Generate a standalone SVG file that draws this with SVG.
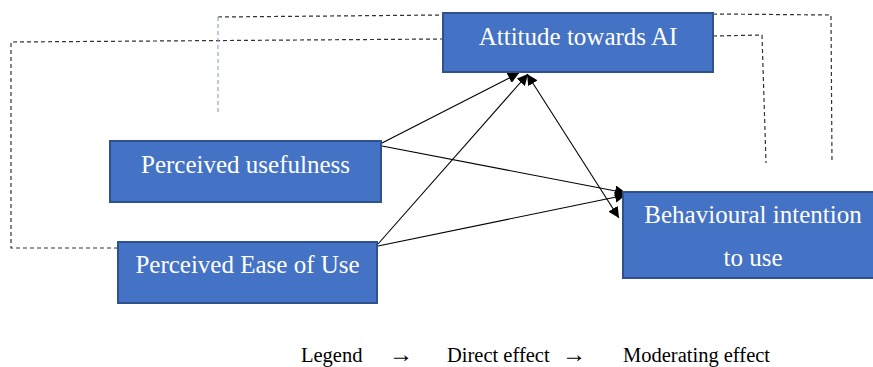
<svg xmlns="http://www.w3.org/2000/svg" width="873" height="367" viewBox="0 0 873 367">
<style>
.box{fill:#4472C4;stroke:#2F528F;stroke-width:2}
.lbl{font-family:"Liberation Serif","Times New Roman",serif;font-size:25px;fill:#fff;text-anchor:middle}
.leg{font-family:"Liberation Serif","Times New Roman",serif;font-size:20.5px;fill:#000}
.la{font-size:24px}
.arr{stroke:#000;stroke-width:1.1;fill:none;marker-end:url(#ah)}
.dash{stroke:#333;stroke-width:1.2;fill:none;stroke-dasharray:4 3}
</style>
<defs>
<marker id="ah" viewBox="0 0 10 10" refX="10" refY="5" markerWidth="11" markerHeight="11" markerUnits="userSpaceOnUse" orient="auto-start-reverse">
<path d="M0,0 L10,5 L0,10 Z" fill="#000"/>
</marker>
</defs>
<g id="connectors">
<polyline class="dash" points="118,248 11,248 11,42 443,39"/>
<polyline class="dash" points="218,17 443,15"/>
<line x1="218" y1="17" x2="218" y2="113" stroke="#8EA9DB" stroke-width="1.2" stroke-dasharray="4 3"/>
<polyline class="dash" points="713,14 831,15 832,163"/>
<polyline class="dash" points="713,36 762,35 766,163"/>
<line class="arr" x1="382" y1="143" x2="519" y2="73"/>
<line class="arr" x1="378" y1="244" x2="528" y2="74"/>
<line class="arr" x1="382" y1="146" x2="626" y2="193"/>
<line class="arr" x1="378" y1="246" x2="626" y2="195"/>
<line class="arr" style="marker-start:url(#ah)" x1="527" y1="74" x2="619" y2="218"/>
</g>
<g id="attitude">
<rect class="box" x="443" y="13" width="270" height="59"/>
<text class="lbl" x="578" y="45">Attitude towards AI</text>
</g>
<g id="usefulness">
<rect class="box" x="110" y="141" width="271" height="61"/>
<text class="lbl" x="245.5" y="173">Perceived usefulness</text>
</g>
<g id="ease">
<rect class="box" x="118" y="242" width="259" height="61"/>
<text class="lbl" x="247.5" y="273">Perceived Ease of Use</text>
</g>
<g id="intention">
<rect class="box" x="623" y="192" width="251" height="86"/>
<text class="lbl" x="753" y="223">Behavioural intention</text>
<text class="lbl" x="753" y="266">to use</text>
</g>
<g id="legend">
<text class="leg" x="301" y="362">Legend</text>
<text class="leg la" x="389" y="362">→</text>
<text class="leg" x="447" y="362">Direct effect</text>
<text class="leg la" x="562" y="362">→</text>
<text class="leg" x="623" y="362">Moderating effect</text>
</g>
</svg>
